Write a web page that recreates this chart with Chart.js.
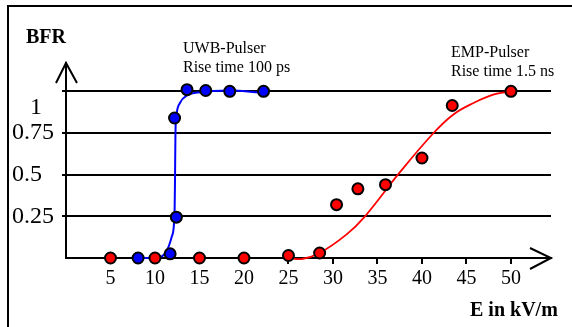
<!DOCTYPE html>
<html>
<head>
<meta charset="utf-8">
<script src="https://cdn.jsdelivr.net/npm/chart.js@4"></script>
<style>
  html, body { margin: 0; padding: 0; background: #fff; }
  #wrap { width: 572px; height: 327px; }
</style>
</head>
<body>
<div id="wrap"><canvas id="chart-bfr" width="572" height="327"></canvas></div>
<script>
const serif = "'Liberation Serif', 'Times New Roman', serif";

// measured points, UWB pulser (blue)
const uwbE = [8.1, 11.7, 12.2, 12.4, 13.6, 15.7, 18.4, 22.2];
const uwbBfr = [0, 0.025, 0.84, 0.245, 1.01, 1.005, 1.0, 1.0];

// fitted curve, UWB pulser
const uwbFitE = [8.1, 10.2, 11.3, 11.9, 12.2, 12.25, 12.3, 12.4, 12.8, 13.6, 15.1, 18.4, 22.2];
const uwbFitBfr = [0, 0, 0.04, 0.13, 0.27, 0.47, 0.75, 0.85, 0.93, 0.975, 0.995, 1.005, 0.99];

// measured points, EMP pulser (red)
const empE = [5, 10, 15, 20, 25, 28.5, 30.4, 32.8, 35.9, 40, 43.4, 50];
const empBfr = [0, 0, 0, 0, 0.015, 0.03, 0.32, 0.415, 0.44, 0.6, 0.915, 1.0];

// fitted curve, EMP pulser
const empFitE = [25, 26.5, 28.5, 31.5, 33.6, 37.3, 41.3, 43.5, 45.8, 48.0, 50];
const empFitBfr = [0, -0.006, 0.03, 0.14, 0.25, 0.5, 0.75, 0.86, 0.93, 0.98, 1.0];

const xTicks = [5, 10, 15, 20, 25, 30, 35, 40, 45, 50];
const yTicks = [0.25, 0.5, 0.75, 1];
const yTickLabels = { 0.25: '0.25', 0.5: '0.5', 0.75: '0.75', 1: ['', '   1'] };

const blue = '#0000ff';
const red = '#ff0000';

function pts(xs, ys) {
  return xs.map(function(x, i) { return { x: x, y: ys[i] }; });
}

// frame, arrows and free text
const decor = {
  id: 'decor',
  beforeDraw: function(chart) {
    const ctx = chart.ctx;
    ctx.save();
    ctx.strokeStyle = '#000';
    ctx.lineWidth = 2;
    ctx.beginPath();
    ctx.moveTo(8, 327);
    ctx.lineTo(8, 6);
    ctx.lineTo(572, 6);
    ctx.stroke();
    ctx.restore();
  },
  afterDraw: function(chart) {
    const ctx = chart.ctx;
    const a = chart.chartArea;
    ctx.save();
    ctx.strokeStyle = '#000';
    ctx.lineWidth = 2;
    ctx.beginPath();
    ctx.moveTo(a.left - 10, a.top + 20);
    ctx.lineTo(a.left, a.top);
    ctx.lineTo(a.left + 11, a.top + 20);
    ctx.moveTo(a.right - 21, a.bottom - 10);
    ctx.lineTo(a.right, a.bottom);
    ctx.lineTo(a.right - 21, a.bottom + 11);
    ctx.stroke();

    ctx.fillStyle = '#000';
    ctx.textBaseline = 'alphabetic';
    ctx.font = 'bold 20px ' + serif;
    ctx.fillText('BFR', 26, 43);
    ctx.fillText('E in kV/m', 470, 316);
    ctx.font = '16px ' + serif;
    ctx.fillText('UWB-Pulser', 183, 53);
    ctx.fillText('Rise time 100 ps', 183, 72);
    ctx.fillText('EMP-Pulser', 451, 57);
    ctx.fillText('Rise time 1.5 ns', 451, 76);
    ctx.restore();
  }
};

new Chart(document.getElementById('chart-bfr'), {
  type: 'scatter',
  data: {
    datasets: [{
      label: 'UWB points',
      data: pts(uwbE, uwbBfr),
      backgroundColor: blue,
      borderColor: '#000',
      borderWidth: 2,
      pointRadius: 5.5,
      order: 0,
      clip: false
    }, {
      label: 'EMP points',
      data: pts(empE, empBfr),
      backgroundColor: red,
      borderColor: '#000',
      borderWidth: 2,
      pointRadius: 5.5,
      order: 0,
      clip: false
    }, {
      label: 'UWB fit',
      data: pts(uwbFitE, uwbFitBfr),
      showLine: true,
      borderColor: blue,
      borderWidth: 2,
      pointRadius: 0,
      cubicInterpolationMode: 'monotone',
      order: 1,
      clip: false
    }, {
      label: 'EMP fit',
      data: pts(empFitE, empFitBfr),
      showLine: true,
      borderColor: red,
      borderWidth: 1.8,
      pointRadius: 0,
      tension: 0.4,
      order: 1,
      clip: false
    }]
  },
  plugins: [decor],
  options: {
    responsive: false,
    animation: false,
    events: [],
    layout: { padding: { left: 12, top: 63, right: 21, bottom: 0 } },
    plugins: {
      legend: { display: false },
      tooltip: { enabled: false }
    },
    scales: {
      x: {
        type: 'linear',
        min: 0,
        max: 54.5,
        afterBuildTicks: function(scale) {
          scale.ticks = xTicks.map(function(v) { return { value: v }; });
        },
        afterFit: function(scale) { scale.height = 69; },
        border: { color: '#000', width: 2 },
        grid: {
          drawOnChartArea: false,
          drawTicks: true,
          tickLength: 6,
          color: '#000',
          lineWidth: 2
        },
        ticks: {
          color: '#000',
          padding: 3,
          maxRotation: 0,
          autoSkip: false,
          font: { family: serif, size: 20 }
        }
      },
      y: {
        type: 'linear',
        min: 0,
        max: 1.17,
        afterBuildTicks: function(scale) {
          scale.ticks = yTicks.map(function(v) { return { value: v }; });
        },
        afterFit: function(scale) { scale.width = 54; },
        border: { color: '#000', width: 2 },
        grid: {
          drawTicks: true,
          tickLength: 4,
          color: '#000',
          lineWidth: 2
        },
        ticks: {
          color: '#000',
          crossAlign: 'far',
          autoSkip: false,
          font: { family: serif, size: 24, lineHeight: 1.35 },
          callback: function(value) { return yTickLabels[value]; }
        }
      }
    }
  }
});
</script>
</body>
</html>
